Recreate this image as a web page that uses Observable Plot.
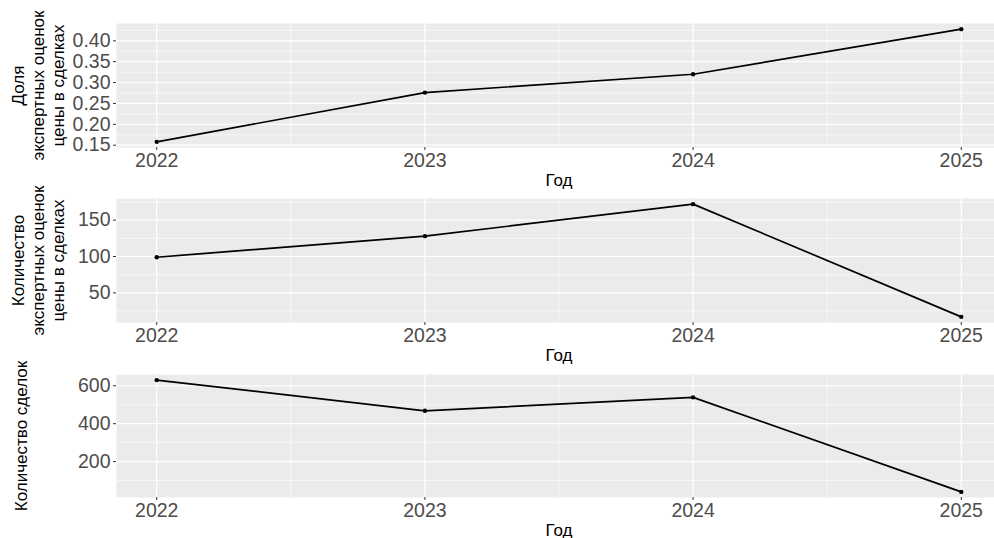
<!DOCTYPE html>
<html>
<head>
<meta charset="utf-8">
<script src="https://cdn.jsdelivr.net/npm/d3@7"></script>
<script src="https://cdn.jsdelivr.net/npm/@observablehq/plot@0.6"></script>
<style>
  html, body { margin: 0; padding: 0; background: #ffffff; overflow: hidden; }
  #wrap { position: relative; width: 994px; height: 538px; }
  .panel { position: absolute; left: 0; width: 994px; }
</style>
</head>
<body>
<div id="wrap"></div>
<script>
// ---- data ----
const years = [2022, 2023, 2024, 2025];
const shareExpert = [0.158, 0.276, 0.320, 0.428];
const countExpert = [99, 128, 172, 17];
const countDeals = [630, 468, 539, 40];

const xTicks = [2022, 2023, 2024, 2025];
const xMinorTicks = [2022.5, 2023.5, 2024.5];

const yTicks1 = [0.15, 0.20, 0.25, 0.30, 0.35, 0.40];
const yMinor1 = [0.175, 0.225, 0.275, 0.325, 0.375, 0.425];
const yTicks2 = [50, 100, 150];
const yMinor2 = [25, 75, 125, 175];
const yTicks3 = [200, 400, 600];
const yMinor3 = [100, 300, 500];

const yLabel1 = "Доля\nэкспертных оценок\nцены в сделках";
const yLabel2 = "Количество\nэкспертных оценок\nцены в сделках";
const yLabel3 = "Количество сделок";
const xLabel = "Год";

const fmt1 = d3.format(".2f");
const fmt0 = d3.format("d");

function expand(vals) {
  const [lo, hi] = d3.extent(vals);
  const r = hi - lo;
  return [lo - 0.05 * r, hi + 0.05 * r];
}

function panel({values, top, height, marginTop, marginBottom, ticks, minor, fmt, label, labelDx}) {
  const data = years.map((y, i) => ({year: y, value: values[i]}));
  const plot = Plot.plot({
    width: 994,
    height,
    marginLeft: 116,
    marginRight: -7,
    marginTop,
    marginBottom,
    style: {
      fontFamily: "'Liberation Sans', Arial, Helvetica, sans-serif",
      fontSize: "19.5px",
      background: "transparent",
      overflow: "hidden"
    },
    x: {domain: [2021.85, 2025.15]},
    y: {domain: expand(values)},
    marks: [
      Plot.frame({fill: "#EBEBEB", stroke: "none"}),
      Plot.gridY(minor, {stroke: "white", strokeOpacity: 1, strokeWidth: 0.6}),
      Plot.gridX(xMinorTicks, {stroke: "white", strokeOpacity: 1, strokeWidth: 0.6}),
      Plot.gridY(ticks, {stroke: "white", strokeOpacity: 1, strokeWidth: 1.2}),
      Plot.gridX(xTicks, {stroke: "white", strokeOpacity: 1, strokeWidth: 1.2}),
      Plot.axisY(ticks, {tickSize: 3, tickPadding: 3, tickFormat: fmt, stroke: "#333333", fill: "#4D4D4D", label: null, fontSize: 19.5}),
      Plot.axisX(xTicks, {tickSize: 3, tickPadding: 3, tickFormat: fmt0, stroke: "#333333", fill: "#4D4D4D", label: null, fontSize: 19.5}),
      Plot.line(data, {x: "year", y: "value", stroke: "black", strokeWidth: 1.7}),
      Plot.dot(data, {x: "year", y: "value", fill: "black", r: 2.2}),
      Plot.text([xLabel], {text: d => d, frameAnchor: "bottom", dy: 38, fontSize: 17, fill: "black"}),
      Plot.text([label], {text: d => d, frameAnchor: "left", dx: labelDx, rotate: -90, fontSize: 17, lineHeight: 1.2, lineAnchor: "middle", textAnchor: "middle", fill: "black"})
    ]
  });
  const div = document.createElement("div");
  div.className = "panel";
  div.style.top = top + "px";
  div.style.height = height + "px";
  div.appendChild(plot);
  document.getElementById("wrap").appendChild(div);
}

panel({values: shareExpert, top: 0, height: 192, marginTop: 23, marginBottom: 45, ticks: yTicks1, minor: yMinor1, fmt: fmt1, label: yLabel1, labelDx: -79});
panel({values: countExpert, top: 180, height: 190, marginTop: 18, marginBottom: 48, ticks: yTicks2, minor: yMinor2, fmt: fmt0, label: yLabel2, labelDx: -79});
panel({values: countDeals, top: 360, height: 178, marginTop: 14, marginBottom: 41, ticks: yTicks3, minor: yMinor3, fmt: fmt0, label: yLabel3, labelDx: -96});
</script>
</body>
</html>
